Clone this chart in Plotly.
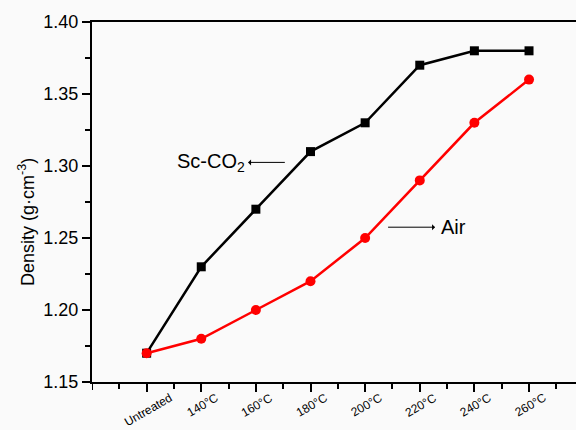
import plotly.graph_objects as go

# Treatment conditions and measured densities (g·cm^-3)
categories = ["Untreated", "140°C", "160°C", "180°C", "200°C", "220°C", "240°C", "260°C"]
sc_co2_density = [1.17, 1.23, 1.27, 1.31, 1.33, 1.37, 1.38, 1.38]
air_density = [1.17, 1.18, 1.20, 1.22, 1.25, 1.29, 1.33, 1.36]

y_ticks = [1.15, 1.20, 1.25, 1.30, 1.35, 1.40]

xpos = list(range(len(categories)))
font = "Liberation Sans, Arial, sans-serif"
plot_h = 430 - 22 - 48

fig = go.Figure()
fig.add_trace(go.Scatter(
    x=xpos, y=sc_co2_density, mode="lines+markers", name="Sc-CO2",
    line=dict(color="black", width=2.5),
    marker=dict(symbol="square", size=9, color="black"),
))
fig.add_trace(go.Scatter(
    x=xpos, y=air_density, mode="lines+markers", name="Air",
    line=dict(color="#ff0000", width=2.5),
    marker=dict(symbol="circle", size=10, color="#ff0000"),
))

# Series labels; the arrowhead sits next to the text (arrowside="start")
fig.add_annotation(
    text="Sc-CO<sub>2</sub>", ax=1.17, ay=1.3025, x=2.53, y=1.3025,
    xref="x", yref="y", axref="x", ayref="y",
    showarrow=True, arrowside="start", arrowhead=2, arrowsize=0.9, arrowwidth=1,
    arrowcolor="black", startstandoff=2, font=dict(family=font, size=20, color="black"),
)
fig.add_annotation(
    text="Air", ax=5.61, ay=1.2575, x=4.42, y=1.2575,
    xref="x", yref="y", axref="x", ayref="y",
    showarrow=True, arrowside="start", arrowhead=2, arrowsize=0.9, arrowwidth=1,
    arrowcolor="black", startstandoff=4, font=dict(family=font, size=20, color="black"),
)

# Rotated category labels centred under their ticks
for xi, label in zip(xpos, categories):
    fig.add_annotation(
        text=label, x=xi, y=-6 / plot_h, xref="x", yref="paper",
        xanchor="center", yanchor="top", xshift=1.5, textangle=-30,
        showarrow=False, font=dict(family=font, size=12, color="black"),
    )

# Y axis title
fig.add_annotation(
    text="Density (g·cm<sup>-3</sup>)", x=0, y=(382 - 222) / plot_h,
    xref="paper", yref="paper", xanchor="center", yanchor="middle",
    xshift=-66, textangle=-90, showarrow=False,
    font=dict(family=font, size=18, color="black"),
)

# Major tick at the axis origin
fig.add_shape(type="line", xref="x", yref="paper", x0=-1, x1=-1, y0=0, y1=-8 / plot_h,
              line=dict(color="black", width=2))

fig.update_layout(
    width=576, height=430,
    margin=dict(l=92, r=0, t=22, b=48),
    paper_bgcolor="#fafafa", plot_bgcolor="#fafafa",
    showlegend=False,
    font=dict(family=font, color="black"),
    xaxis=dict(
        range=[-1, 7.86], tickvals=xpos, showticklabels=False, automargin=False,
        showline=True, linecolor="black", linewidth=2, mirror=True,
        ticks="outside", ticklen=8, tickwidth=2, tickcolor="black",
        minor=dict(ticks="outside", tickvals=[-0.5 + i for i in range(9)],
                   ticklen=5, tickwidth=2, tickcolor="black"),
        showgrid=False, zeroline=False,
    ),
    yaxis=dict(
        range=[1.15, 1.40], tickvals=y_ticks, tickformat=".2f",
        tickfont=dict(size=18), automargin=False,
        showline=True, linecolor="black", linewidth=2,
        ticks="outside", ticklen=8, tickwidth=2, tickcolor="black",
        minor=dict(ticks="outside", dtick=0.025, tick0=1.15,
                   ticklen=5, tickwidth=2, tickcolor="black"),
        showgrid=False, zeroline=False,
    ),
)

fig.write_html("out.html")
